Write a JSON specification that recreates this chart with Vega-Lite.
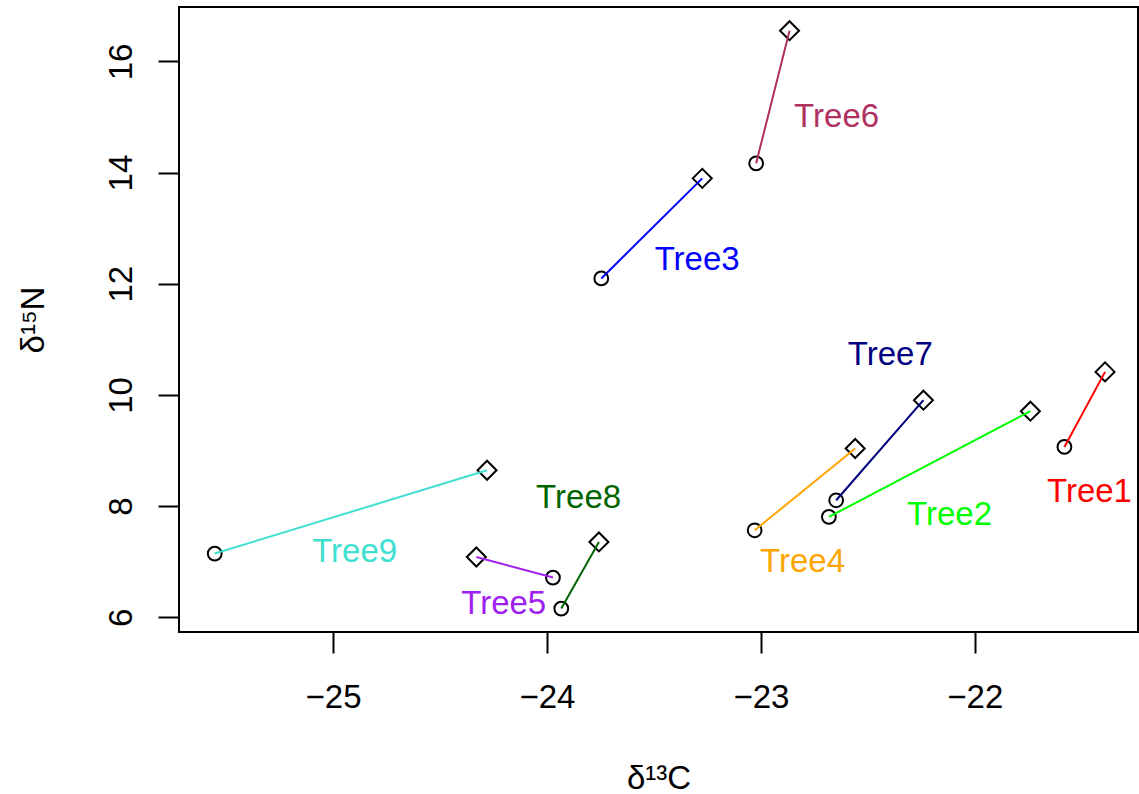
{
  "$schema": "https://vega.github.io/schema/vega-lite/v6.json",
  "width": 959,
  "height": 625,
  "autosize": "none",
  "padding": {"left": 179, "top": 7, "right": 1, "bottom": 162},
  "background": "white",
  "config": {
    "view": {"stroke": "black", "strokeWidth": 2},
    "font": "Liberation Sans"
  },
  "data": {
    "values": [
      {"tree": "Tree1", "x0": -21.581, "y0": 9.064, "x1": -21.391, "y1": 10.414, "lx": -21.464, "ly": 8.074},
      {"tree": "Tree2", "x0": -22.682, "y0": 7.804, "x1": -21.740, "y1": 9.707, "lx": -22.118, "ly": 7.654},
      {"tree": "Tree3", "x0": -23.746, "y0": 12.095, "x1": -23.274, "y1": 13.896, "lx": -23.298, "ly": 12.245},
      {"tree": "Tree4", "x0": -23.029, "y0": 7.564, "x1": -22.559, "y1": 9.035, "lx": -22.805, "ly": 6.808},
      {"tree": "Tree5", "x0": -23.972, "y0": 6.713, "x1": -24.330, "y1": 7.084, "lx": -24.202, "ly": 6.065},
      {"tree": "Tree6", "x0": -23.022, "y0": 14.166, "x1": -22.866, "y1": 16.553, "lx": -22.646, "ly": 14.824},
      {"tree": "Tree7", "x0": -22.648, "y0": 8.104, "x1": -22.240, "y1": 9.905, "lx": -22.395, "ly": 10.535},
      {"tree": "Tree8", "x0": -23.933, "y0": 6.155, "x1": -23.757, "y1": 7.354, "lx": -23.852, "ly": 7.960},
      {"tree": "Tree9", "x0": -25.553, "y0": 7.145, "x1": -24.280, "y1": 8.644, "lx": -24.899, "ly": 6.994}
    ]
  },
  "encoding": {
    "x": {
      "field": "x0", "type": "quantitative",
      "scale": {"domain": [-25.72, -21.237], "nice": false, "zero": false},
      "axis": {
        "title": "δ¹³C",
        "values": [-25, -24, -23, -22],
        "grid": false, "domain": false,
        "tickSize": 21, "tickWidth": 2, "tickColor": "black",
        "labelFontSize": 33, "labelColor": "black", "labelBaseline": "alphabetic", "labelPadding": 54,
        "labelFont": "Liberation Sans",
        "titleFontSize": 33, "titleFontWeight": "normal", "titleColor": "black", "titleFont": "Liberation Sans",
        "titleBaseline": "alphabetic", "titleY": 156
      }
    },
    "y": {
      "field": "y0", "type": "quantitative",
      "scale": {"domain": [5.734, 16.979], "nice": false, "zero": false},
      "axis": {
        "title": "δ¹⁵N",
        "values": [6, 8, 10, 12, 14, 16],
        "grid": false, "domain": false,
        "tickSize": 21, "tickWidth": 2, "tickColor": "black",
        "labelFontSize": 33, "labelColor": "black", "labelAngle": -90, "labelAlign": "center",
        "labelBaseline": "alphabetic", "labelPadding": 27, "labelFont": "Liberation Sans",
        "titleFontSize": 33, "titleFontWeight": "normal", "titleColor": "black", "titleFont": "Liberation Sans",
        "titleBaseline": "alphabetic", "titleX": -136
      }
    }
  },
  "layer": [
    {
      "mark": {"type": "point", "shape": "circle", "filled": false, "size": 190, "stroke": "black", "strokeWidth": 2, "opacity": 1}
    },
    {
      "mark": {"type": "point", "shape": "diamond", "filled": false, "size": 361, "stroke": "black", "strokeWidth": 2, "opacity": 1},
      "encoding": {
        "x": {"field": "x1", "type": "quantitative"},
        "y": {"field": "y1", "type": "quantitative"}
      }
    },
    {
      "mark": {"type": "rule", "strokeWidth": 2},
      "encoding": {
        "x2": {"field": "x1"},
        "y2": {"field": "y1"},
        "color": {
          "field": "tree", "type": "nominal", "legend": null,
          "scale": {
            "domain": ["Tree1", "Tree2", "Tree3", "Tree4", "Tree5", "Tree6", "Tree7", "Tree8", "Tree9"],
            "range": ["#FF0000", "#00FF00", "#0000FF", "#FFA500", "#A020F0", "#B03060", "#000080", "#006400", "#40E0D0"]
          }
        }
      }
    },
    {
      "mark": {"type": "text", "fontSize": 33, "font": "Liberation Sans", "align": "center", "baseline": "alphabetic"},
      "encoding": {
        "x": {"field": "lx", "type": "quantitative"},
        "y": {"field": "ly", "type": "quantitative"},
        "text": {"field": "tree"},
        "color": {"field": "tree", "type": "nominal", "legend": null}
      }
    }
  ]
}
